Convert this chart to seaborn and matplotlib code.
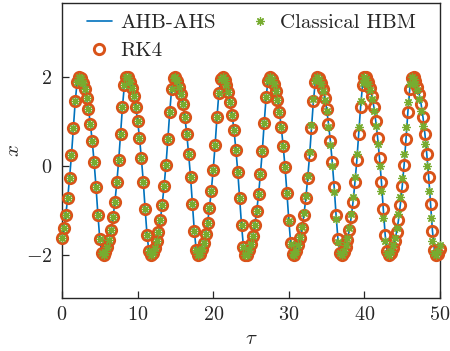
import numpy as np
import matplotlib
matplotlib.use("Agg")
import matplotlib.pyplot as plt
import seaborn as sns

# time grid (RK4 / HBM sampling every 0.25)
tau = np.arange(201) * 0.25

# RK4 reference solution (also traced by the AHB-AHS curve)
x_rk4 = [
    -1.62, -1.40, -1.10, -0.73, -0.27, 0.24, 0.85, 1.46, 1.89, 2.02,
    1.98, 1.88, 1.73, 1.54, 1.29, 0.95, 0.56, 0.08, -0.47, -1.10,
    -1.65, -1.96, -2.01, -1.95, -1.82, -1.66, -1.45, -1.16, -0.81, -0.37,
    0.13, 0.72, 1.34, 1.82, 2.00, 2.00, 1.90, 1.76, 1.58, 1.34,
    1.02, 0.64, 0.17, -0.35, -0.98, -1.56, -1.93, -2.02, -1.97, -1.85,
    -1.69, -1.50, -1.23, -0.88, -0.46, 0.02, 0.60, 1.22, 1.74, 1.99,
    2.01, 1.93, 1.79, 1.62, 1.40, 1.10, 0.73, 0.27, -0.24, -0.85,
    -1.46, -1.89, -2.02, -1.98, -1.88, -1.73, -1.54, -1.29, -0.95, -0.56,
    -0.08, 0.47, 1.10, 1.65, 1.96, 2.01, 1.95, 1.82, 1.66, 1.45,
    1.16, 0.81, 0.37, -0.13, -0.72, -1.34, -1.82, -2.00, -2.00, -1.90,
    -1.76, -1.58, -1.34, -1.02, -0.64, -0.17, 0.35, 0.98, 1.56, 1.93,
    2.02, 1.97, 1.85, 1.69, 1.50, 1.23, 0.88, 0.46, -0.02, -0.60,
    -1.22, -1.74, -1.99, -2.01, -1.93, -1.79, -1.62, -1.40, -1.10, -0.73,
    -0.27, 0.24, 0.85, 1.46, 1.89, 2.02, 1.98, 1.88, 1.73, 1.54,
    1.29, 0.95, 0.56, 0.08, -0.47, -1.10, -1.65, -1.96, -2.01, -1.95,
    -1.82, -1.66, -1.45, -1.16, -0.81, -0.37, 0.13, 0.72, 1.34, 1.82,
    2.00, 2.00, 1.90, 1.76, 1.58, 1.34, 1.02, 0.64, 0.17, -0.35,
    -0.98, -1.56, -1.93, -2.02, -1.97, -1.85, -1.69, -1.50, -1.23, -0.88,
    -0.46, 0.02, 0.60, 1.22, 1.74, 1.99, 2.01, 1.93, 1.79, 1.62,
    1.40, 1.10, 0.73, 0.27, -0.24, -0.85, -1.46, -1.89, -2.02, -1.98,
    -1.88,
]

# Classical HBM solution (drifts ahead in the later cycles)
x_hbm = [
    -1.62, -1.40, -1.10, -0.73, -0.27, 0.24, 0.85, 1.46, 1.89, 2.02,
    1.98, 1.88, 1.73, 1.54, 1.29, 0.95, 0.56, 0.08, -0.47, -1.10,
    -1.65, -1.96, -2.01, -1.95, -1.82, -1.66, -1.45, -1.16, -0.81, -0.37,
    0.13, 0.72, 1.34, 1.82, 2.00, 2.00, 1.90, 1.76, 1.58, 1.34,
    1.02, 0.64, 0.17, -0.35, -0.98, -1.56, -1.93, -2.02, -1.97, -1.85,
    -1.69, -1.50, -1.23, -0.88, -0.46, 0.02, 0.60, 1.22, 1.74, 1.99,
    2.01, 1.93, 1.79, 1.62, 1.40, 1.10, 0.73, 0.27, -0.24, -0.85,
    -1.46, -1.89, -2.02, -1.98, -1.88, -1.73, -1.54, -1.29, -0.95, -0.56,
    -0.08, 0.47, 1.10, 1.65, 1.96, 2.01, 1.95, 1.82, 1.66, 1.45,
    1.16, 0.81, 0.37, -0.13, -0.72, -1.34, -1.82, -2.00, -2.00, -1.90,
    -1.76, -1.58, -1.34, -1.02, -0.64, -0.17, 0.35, 0.98, 1.56, 1.93,
    2.02, 1.97, 1.85, 1.69, 1.50, 1.23, 0.88, 0.46, -0.02, -0.60,
    -1.25, -1.76, -1.99, -2.00, -1.92, -1.78, -1.60, -1.37, -1.06, -0.68,
    -0.22, 0.31, 0.92, 1.51, 1.91, 2.02, 1.97, 1.86, 1.70, 1.50,
    1.24, 0.89, 0.48, -0.01, -0.58, -1.20, -1.71, -1.97, -2.00, -1.92,
    -1.79, -1.62, -1.39, -1.08, -0.71, -0.25, 0.27, 0.87, 1.46, 1.87,
    2.00, 1.97, 1.86, 1.71, 1.51, 1.24, 0.90, 0.49, 0.00, -0.56,
    -1.17, -1.69, -1.96, -2.00, -1.93, -1.79, -1.62, -1.40, -1.09, -0.71,
    -0.26, 0.26, 0.87, 1.45, 1.85, 2.00, 1.97, 1.86, 1.71, 1.51,
    1.25, 0.91, 0.49, 0.00, -0.57, -1.18, -1.70, -1.96, -2.00, -1.92,
    -1.79,
]

x_ticks = [0, 10, 20, 30, 40, 50]
y_ticks = [-2, 0, 2]

sns.set_theme(style="ticks")
plt.rcParams.update({
    "font.family": ["cmr10", "DejaVu Serif"],
    "mathtext.fontset": "cm",
    "axes.formatter.use_mathtext": True,
    "axes.unicode_minus": True,
    "axes.edgecolor": "#262626",
    "axes.linewidth": 1.0,
})

fig = plt.figure(figsize=(4.5, 3.51), dpi=100)
ax = fig.add_axes([62 / 450, 53 / 351, 378 / 450, 295 / 351])

BLUE, ORANGE, GREEN = "#0072BD", "#D95319", "#77AC30"

sns.lineplot(x=tau, y=x_rk4, ax=ax, color=BLUE, linewidth=1.2,
             estimator=None, sort=False, label="AHB-AHS", clip_on=False, zorder=2)
sns.lineplot(x=tau, y=x_rk4, ax=ax, linestyle="", marker="o", markersize=7.4,
             markerfacecolor="none", markeredgecolor=ORANGE, markeredgewidth=2.1,
             color=ORANGE, estimator=None, sort=False, label="RK4",
             clip_on=False, zorder=3)
sns.lineplot(x=tau, y=x_hbm, ax=ax, linestyle="", marker=(8, 2, 0), markersize=6,
             markeredgecolor=GREEN, markeredgewidth=0.9, color=GREEN,
             estimator=None, sort=False, label="Classical HBM",
             clip_on=False, zorder=4)

ax.set_xlim(0, 50)
ax.set_ylim(-2.98, 3.68)
ax.set_xticks(x_ticks)
ax.set_yticks(y_ticks)
ax.tick_params(direction="in", length=5, width=0.9, labelsize=14.5,
               top=False, right=False, colors="#262626")
ax.tick_params(axis="x", pad=6)
ax.tick_params(axis="y", pad=7)
for s in ax.spines.values():
    s.set_visible(True)
    s.set_color("#262626")
ax.set_xlabel(r"$\tau$", fontsize=15, labelpad=4, color="#262626")
ax.set_ylabel(r"$x$", fontsize=15, labelpad=2, color="#262626")

handles, labels = ax.get_legend_handles_labels()
order = [labels.index(l) for l in ["AHB-AHS", "RK4", "Classical HBM"]]
leg = ax.legend([handles[i] for i in order], [labels[i] for i in order],
                ncol=2, loc="upper left", bbox_to_anchor=(0.066, 0.963),
                frameon=False, fontsize=15, borderpad=0, borderaxespad=0,
                handlelength=1.2, handletextpad=0.38, columnspacing=1.52,
                labelspacing=0.45)
leg.set_zorder(6)
for t in leg.get_texts():
    t.set_color("#262626")

fig.savefig("out.png", dpi=100)
